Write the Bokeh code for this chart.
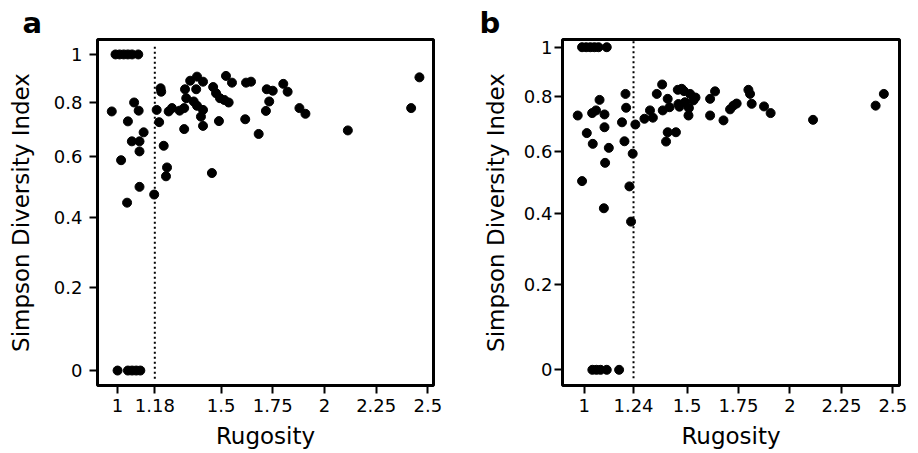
import numpy as np
from bokeh.plotting import figure
from bokeh.layouts import row
from bokeh.models import FixedTicker, CustomJSTickFormatter, Range1d
from bokeh.embed import file_html
from bokeh.resources import INLINE

FONT = "DejaVu Sans"

# ---------------- data ----------------
y_tick_values = [0, 0.2, 0.4, 0.6, 0.8, 1]

# panel a
a_threshold = 1.18
a_x_ticks = [1, 1.18, 1.5, 1.75, 2, 2.25, 2.5]
a_rugosity = [
    0.99, 1.01, 1.03, 1.05, 1.07, 1.10,
    1.00, 1.05, 1.07, 1.09, 1.11,
    0.972, 1.050, 1.080, 1.102, 1.126, 1.069, 1.106, 1.106, 1.017, 1.106,
    1.046, 1.177, 1.223, 1.239, 1.234, 1.189, 1.201, 1.208, 1.211, 1.247,
    1.263, 1.300, 1.322, 1.322, 1.326, 1.351, 1.384, 1.413, 1.380, 1.332,
    1.368, 1.384, 1.413, 1.403, 1.413, 1.456, 1.462, 1.476, 1.495, 1.516,
    1.537, 1.490, 1.524, 1.553, 1.617, 1.682, 1.621, 1.645, 1.721, 1.750,
    1.733, 1.717, 1.801, 1.822, 1.879, 1.908, 2.113, 2.419, 2.459,
]
a_simpson = [
    1, 1, 1, 1, 1, 1,
    0, 0, 0, 0, 0,
    0.765, 0.727, 0.800, 0.768, 0.686, 0.653, 0.653, 0.617, 0.586, 0.496,
    0.445, 0.471, 0.637, 0.561, 0.531, 0.771, 0.724, 0.857, 0.843, 0.765,
    0.778, 0.768, 0.778, 0.698, 0.853, 0.888, 0.905, 0.884, 0.853, 0.817,
    0.804, 0.787, 0.771, 0.745, 0.710, 0.542, 0.862, 0.837, 0.817, 0.810,
    0.800, 0.728, 0.908, 0.880, 0.735, 0.680, 0.880, 0.884, 0.853, 0.847,
    0.804, 0.767, 0.875, 0.843, 0.778, 0.756, 0.693, 0.778, 0.902,
]

# panel b
b_threshold = 1.24
b_x_ticks = [1, 1.24, 1.5, 1.75, 2, 2.25, 2.5]
b_rugosity = [
    0.99, 1.01, 1.03, 1.05, 1.07, 1.11,
    1.04, 1.06, 1.08, 1.11, 1.17,
    0.969, 1.039, 1.075, 1.058, 1.099, 1.099, 1.013, 1.042, 1.120, 1.102,
    0.990, 1.096, 1.184, 1.196, 1.201, 1.204, 1.236, 1.220, 1.228, 1.249,
    1.293, 1.320, 1.334, 1.353, 1.379, 1.382, 1.406, 1.415, 1.455, 1.463,
    1.406, 1.398, 1.446, 1.474, 1.515, 1.531, 1.490, 1.458, 1.507, 1.485,
    1.541, 1.509, 1.612, 1.636, 1.612, 1.677, 1.709, 1.725, 1.741, 1.798,
    1.806, 1.814, 1.874, 1.906, 2.112, 2.416, 2.456,
]
b_simpson = [
    1, 1, 1, 1, 1, 1,
    0, 0, 0, 0, 0,
    0.727, 0.736, 0.786, 0.746, 0.731, 0.684, 0.663, 0.625, 0.611, 0.560,
    0.500, 0.415, 0.702, 0.634, 0.809, 0.756, 0.591, 0.483, 0.375, 0.694,
    0.715, 0.746, 0.719, 0.809, 0.846, 0.746, 0.790, 0.758, 0.825, 0.760,
    0.666, 0.633, 0.666, 0.829, 0.809, 0.784, 0.777, 0.770, 0.727, 0.820,
    0.795, 0.755, 0.790, 0.819, 0.727, 0.709, 0.750, 0.764, 0.772, 0.825,
    0.809, 0.771, 0.761, 0.736, 0.711, 0.764, 0.809,
]

# extent of the dotted threshold line (in index units)
line_extent = [-0.018, 1.034]


def make_panel(xs, ys, thr, xticks, letter, width, height, x_range, y_range,
               borders, letter_offset, y_label_standoff, y_axis_label_standoff):
    p = figure(width=width, height=height,
               x_range=Range1d(*x_range), y_range=Range1d(*y_range),
               output_backend="svg", toolbar_location=None,
               min_border_left=borders[0], min_border_right=borders[1],
               min_border_top=borders[2], min_border_bottom=borders[3])
    p.grid.visible = False
    p.background_fill_color = "white"
    p.border_fill_color = "white"
    p.outline_line_color = "black"
    p.outline_line_width = 3
    p.outline_line_alpha = 1.0

    # panel letter as a title
    p.title.text = letter
    p.title.align = "left"
    p.title.offset = letter_offset
    p.title.standoff = 0
    p.title.text_font = FONT
    p.title.text_font_size = "29px"
    p.title.text_font_style = "bold"
    p.title.text_color = "black"

    ly = np.log1p(np.array(ys, dtype=float))
    ext = np.log1p(np.array(line_extent))
    p.segment(x0=[thr], y0=[ext[0]], x1=[thr], y1=[ext[1]],
              line_color="black", line_width=2, line_dash="2 3")
    p.scatter(x=xs, y=ly, size=9, fill_color="black", line_color="black")

    # axes
    p.xaxis.ticker = FixedTicker(ticks=xticks)
    p.xaxis.formatter = CustomJSTickFormatter(
        code="return String(Math.round(tick * 100) / 100);")
    p.yaxis.ticker = FixedTicker(ticks=list(np.log1p(y_tick_values)))
    p.yaxis.formatter = CustomJSTickFormatter(
        code="const v = Math.exp(tick) - 1; return String(Math.round(v * 10) / 10);")
    p.xaxis.axis_label = "Rugosity"
    p.yaxis.axis_label = "Simpson Diversity Index"
    for ax in (p.xaxis[0], p.yaxis[0]):
        ax.axis_line_color = None
        ax.major_tick_line_color = "black"
        ax.major_tick_line_width = 2
        ax.major_tick_out = 8
        ax.major_tick_in = 0
        ax.minor_tick_line_color = None
        ax.major_label_text_font = FONT
        ax.major_label_text_font_size = "18px"
        ax.major_label_text_color = "black"
        ax.axis_label_text_font = FONT
        ax.axis_label_text_font_size = "23px"
        ax.axis_label_text_font_style = "normal"
        ax.axis_label_text_color = "black"
    p.xaxis.major_label_standoff = 5
    p.xaxis.axis_label_standoff = 8
    p.yaxis.major_label_standoff = y_label_standoff
    p.yaxis.axis_label_standoff = y_axis_label_standoff
    return p


pa = make_panel(a_rugosity, a_simpson, a_threshold, a_x_ticks, "a",
                460, 453, (0.903, 2.527), (-0.0328, 0.7259),
                (97, 27, 39, 66), -75, 7, 17)
pb = make_panel(b_rugosity, b_simpson, b_threshold, b_x_ticks, "b",
                458, 453, (0.895, 2.532), (-0.0337, 0.7097),
                (102, 19, 39, 68), -83, 2, 12)

layout = row(pa, pb)
open("out.html", "w").write(file_html(layout, INLINE))
